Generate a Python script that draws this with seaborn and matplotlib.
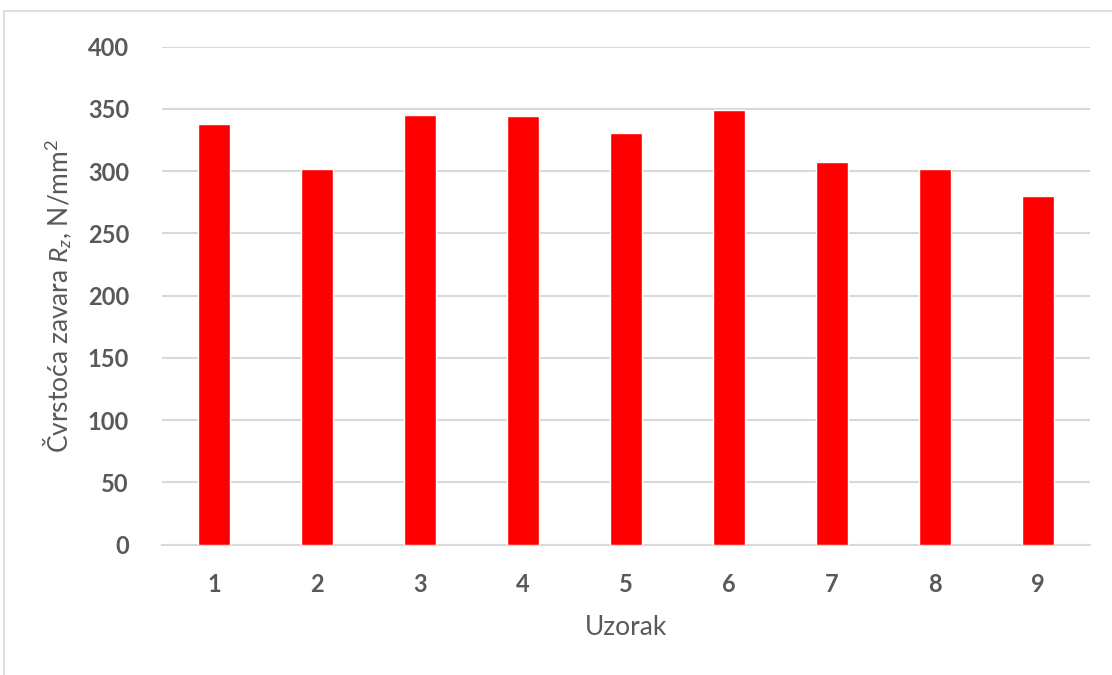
import matplotlib
matplotlib.use("Agg")
import matplotlib.pyplot as plt
import seaborn as sns
import pandas as pd
from matplotlib.patches import Rectangle

# Weld strength per specimen
samples = ["1", "2", "3", "4", "5", "6", "7", "8", "9"]
strength = [338, 302, 345, 344, 331, 349, 307, 302, 280]
y_ticks = [0, 50, 100, 150, 200, 250, 300, 350, 400]

sns.set_theme(style="white")
plt.rcParams["font.family"] = ["Lato", "DejaVu Sans"]
plt.rcParams["mathtext.fontset"] = "custom"
plt.rcParams["mathtext.rm"] = "Lato"
plt.rcParams["mathtext.it"] = "Lato:italic"

df = pd.DataFrame({"Uzorak": samples, "Rz": strength})

fig = plt.figure(figsize=(11.12, 6.75), dpi=100)
ax = fig.add_axes([0.146, 0.193, 0.834, 0.738])

sns.barplot(data=df, x="Uzorak", y="Rz", color="#ff0000", width=0.31,
            saturation=1, ax=ax, zorder=3)

ax.set_ylim(0, 400)
ax.set_yticks(y_ticks)
ax.set_xlim(-0.5, len(samples) - 0.5)
ax.yaxis.grid(True, color="#d9d9d9", linewidth=1.5, zorder=0)
ax.xaxis.grid(False)
for side in ["top", "right", "left"]:
    ax.spines[side].set_visible(False)
ax.spines["bottom"].set_color("#d9d9d9")
ax.spines["bottom"].set_linewidth(1.5)

ax.tick_params(axis="both", length=0, labelsize=17, labelcolor="#595959")
for lbl in ax.get_xticklabels() + ax.get_yticklabels():
    lbl.set_fontweight("bold")
ax.tick_params(axis="y", pad=24)
ax.tick_params(axis="x", pad=20)

ax.set_xlabel("Uzorak", fontsize=19, color="#595959", labelpad=14)
ax.set_ylabel(r"Čvrstoća zavara $R_z$, N/mm$^2$", fontsize=19, color="#595959",
              labelpad=10)

# Chart frame
fig.patches.append(Rectangle((0.004, -0.01), 1.1, 0.993, transform=fig.transFigure,
                             fill=False, edgecolor="#d9d9d9", linewidth=1.2))

fig.savefig("out.png", dpi=100)
